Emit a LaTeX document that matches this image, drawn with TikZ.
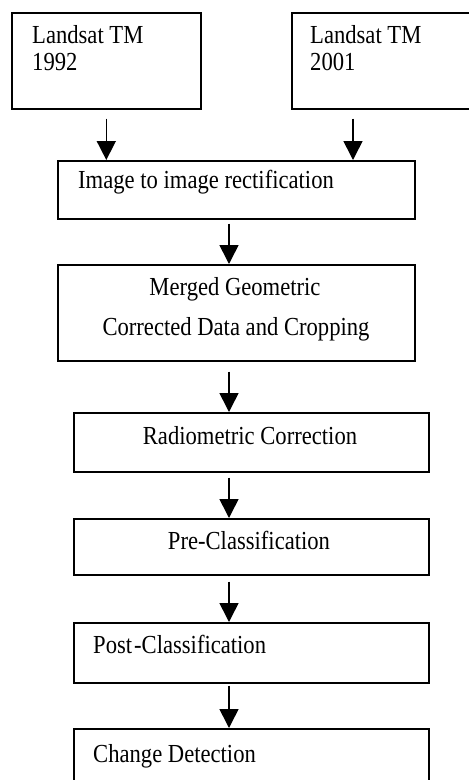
\documentclass[tikz,border=0pt]{standalone}
\usepackage{fontspec}
\setmainfont{Liberation Serif}[FakeStretch=0.87]
\usetikzlibrary{calc, arrows.meta}

\begin{document}
\begin{tikzpicture}[x=1pt, y=-1pt,
		box/.style={draw, line width=1.6pt, inner sep=0pt, anchor=north west},
		txt/.style={inner sep=0pt, font=\fontsize{26}{28}\selectfont}]
	\clip (0,0) rectangle (469,780);
	
	\coordinate (spine) at (229,0);
	
	\begin{scope}
		\node[box, minimum width=189pt, minimum height=96pt] (tm92) at (11,12) {};
		\node[box, minimum width=181pt, minimum height=96pt] (tm01) at (291,12) {};
		\node[box, minimum width=357pt, minimum height=58pt] (rect) at (57,160) {};
		\node[box, minimum width=357pt, minimum height=96pt] (merged) at (57,264) {};
		\node[box, minimum width=355pt, minimum height=59pt] (radio) at (73,412) {};
		\node[box, minimum width=355pt, minimum height=56pt] (precls) at (73,518) {};
		\node[box, minimum width=355pt, minimum height=60pt] (postcls) at (73,622) {};
		\node[box, minimum width=355pt, minimum height=62pt] (change) at (73,728) {};
	\end{scope}
	
	\begin{scope}[txt]
		\node[anchor=base west] (tm92a) at (32,43) {Landsat TM};
		\node[anchor=base west] (tm92b) at (32,70) {1992};
		\node[anchor=base west] (tm01a) at (310,43) {Landsat TM};
		\node[anchor=base west] (tm01b) at (310,70) {2001};
		\node[anchor=base west] (rectT) at (78,188) {Image to image rectification};
		\node[anchor=base] (mergedA) at (235,295) {Merged Geometric};
		\node[anchor=base] (mergedB) at (236,335) {Corrected Data and Cropping};
		\node[anchor=base] (radioT) at (250,444) {Radiometric Correction};
		\node[anchor=base] (preclsT) at (249,549) {Pre-Classification};
		\node[anchor=base west] (postclsT) at (93,653) {Post\kern2pt-Classification};
		\node[anchor=base west] (changeT) at (93,762) {Change Detection};
	\end{scope}
	
	\begin{scope}[-{Triangle[length=19pt, width=19pt]}, line width=1.6pt]
		\coordinate (a1) at ($ (tm92.south) + (0,9) $);
		\coordinate (a2) at ($ (tm01.south west) + (62,9) $);
		\draw (a1) -- (a1 |- rect.north);
		\draw (a2) -- (a2 |- rect.north);
		\draw ($ (rect.south -| spine) + (0,4) $) -- (spine |- merged.north);
		\draw ($ (merged.south -| spine) + (0,10) $) -- (spine |- radio.north);
		\draw ($ (radio.south -| spine) + (0,5) $) -- (spine |- precls.north);
		\draw ($ (precls.south -| spine) + (0,6) $) -- (spine |- postcls.north);
		\draw ($ (postcls.south -| spine) + (0,2) $) -- (spine |- change.north);
	\end{scope}
\end{tikzpicture}
\end{document}
